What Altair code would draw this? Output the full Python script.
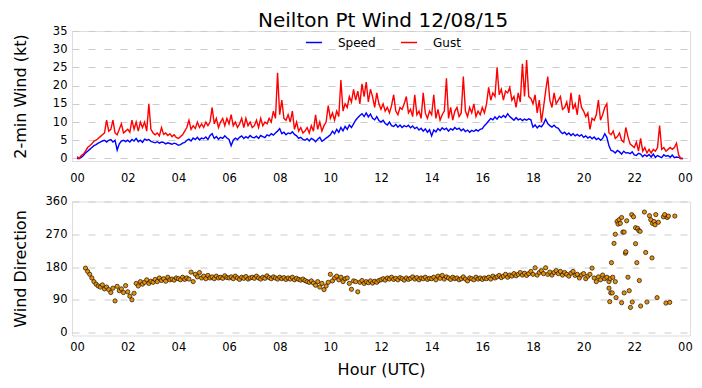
import altair as alt
import pandas as pd

# 2-min wind speed (kt), 5-minute samples from 00:00
speed = [
    0, 0, 0.3, 0.8, 1.5, 2, 2.5, 3, 3.5, 3.8, 4.2, 4.5,
    4.8, 5, 4.5, 5, 5.2, 4.5, 5, 2.3, 4, 4.8, 5, 4.6,
    5, 4.5, 5.2, 4.8, 5.5, 4.6, 5, 4.4, 5.3, 5, 5.2, 4.7,
    4.5, 4.3, 4.6, 4.2, 4.5, 4.4, 4, 4.3, 4.1, 3.9, 4.2, 4,
    3.6, 3.8, 4.2, 4.4, 5, 5.3, 4.8, 5.6, 5.2, 5.8, 5.1, 5.6,
    5.4, 5.9, 5.2, 6.3, 6.8, 5.5, 6, 5.3, 5.8, 5.5, 6.2, 5.6,
    5.2, 3.5, 5, 5.6, 5.2, 5.8, 6.2, 5.5, 6, 5.6, 6.3, 5.8,
    5.7, 6.1, 5.5, 6.3, 6, 5.7, 6.5, 6.2, 6.8, 6.4, 7, 7.5,
    8.2, 6.8, 7.2, 6.5, 7, 6.8, 7.3, 6.6, 6.2, 5.5, 5.8, 5.2,
    5, 5.4, 4.8, 5.5, 5.2, 4.6, 5.3, 5.8, 4.7, 5.1, 5.6, 6,
    6.5, 7.5, 6.8, 8, 7.2, 8.5, 7.6, 8.8, 8, 9.2, 8.5, 9.5,
    10.5, 11.2, 11.8, 12.3, 11.5, 12.5, 11.4, 12.2, 11, 10.6, 11.5, 10.4,
    10, 10.5, 9.6, 9.2, 10, 9, 8.8, 9.4, 8.6, 9.2, 8.5, 9,
    8.7, 9.1, 8.4, 8.9, 8.2, 8.6, 7.8, 8.3, 7.5, 8.1, 7.2, 7.9,
    6.2, 7.8, 7.3, 8.2, 7.6, 8.4, 7.9, 8.3, 7.5, 8.2, 7.8, 8.5,
    8, 8.3, 7.6, 8.1, 7.4, 7.8, 7.2, 7.7, 7.4, 7.9, 7.5, 8,
    8.2, 9, 9.6, 10.3, 11, 10.6, 11.4, 10.8, 11.6, 11.2, 11.8, 11.3,
    12.3, 11.5, 11, 10.5, 11.2, 10.6, 10.9, 10.4, 10.8, 10.5, 10.9, 10.6,
    8.6, 9.2, 8.4, 9, 8.7, 9.5, 10.8, 9.6, 9, 8.6, 9.1, 8.5,
    8.3, 7.4, 6.8, 7.2, 6.5, 7, 6.3, 6.8, 6.2, 6.6, 6.1, 6.5,
    5.8, 6.2, 5.6, 6, 5.4, 5.9, 5.2, 5.6, 5, 5.5, 6.8, 5.8,
    3.5, 2.2, 2, 1.5, 2.2, 1.8, 1.2, 2, 1.5, 1.6, 1.3, 1.8,
    1, 0.8, 1.4, 1.2, 0.5, 1, 0.6, 1.1, 0.4, 1.2, 0.3, 0.8,
    0.5, 0.2, 1, 0.6, 0.8, 0.3, 0.9, 0.2, 0.4, 0.3, 0, 0,
]

# gust (kt), same 5-minute samples
gust = [
    0.5, 0, 0.8, 1.2, 2, 3, 3.5, 4, 4.8, 5, 5.5, 6,
    6.5, 7, 10.5, 7.5, 8, 10.5, 7, 6.5, 8, 9.5, 7, 7.5,
    8, 7.2, 10.5, 8, 10, 7.5, 10, 8.5, 10, 7.5, 15, 8,
    7, 6.5, 7, 6.2, 8.5, 6.6, 7, 6.3, 6.8, 6, 6.5, 5.8,
    5.5, 6, 6.5, 7.5, 8.5, 10.5, 8, 9, 8.2, 10, 8.5, 9.5,
    8.5, 10, 9, 10, 14, 9.5, 11, 8.5, 10, 11, 9, 11,
    9.5, 12, 9, 10, 8.5, 9.5, 11, 8.5, 11, 9, 10, 8.5,
    9, 10.5, 8.5, 11, 9, 10, 9.5, 11, 10, 13, 11, 23.5,
    12, 16, 11, 10.5, 12, 10, 13, 8, 10, 7.5, 8.5, 7,
    7.5, 8.5, 7, 9, 7.5, 12, 8, 10, 7.5, 9, 10, 14.5,
    11, 12.5, 10.5, 13, 11.5, 21.5, 13, 15, 14, 17, 15.5, 19,
    16, 18.5, 15, 20.5, 17, 21, 15.5, 19, 17, 14, 18, 15,
    13.5, 15, 13, 14, 12.5, 14.5, 17.5, 13, 12, 14, 13.5, 15,
    17, 12.5, 13.5, 11.5, 17.5, 12, 13, 11, 18, 12.5, 11, 13,
    12, 17.5, 11, 13.5, 10.5, 12, 13, 22, 11, 14, 10.5, 13,
    14, 11.5, 12.5, 22.5, 13, 11.5, 14, 12.5, 15, 11.5, 13, 12,
    14, 12.5, 15, 19.5, 16, 18, 17, 25, 17.5, 19, 16, 18.5,
    18, 19.5, 16, 17, 14, 18, 15.5, 26, 17, 27, 17, 16.5,
    15, 17.5, 12.5, 16, 10, 14, 18.5, 22.5, 16, 14, 18, 15,
    16, 17, 13.5, 14, 15.5, 12.5, 18, 13.5, 15, 12, 17.5, 14,
    13, 11.5, 12.5, 8, 11, 10.5, 12, 16, 10.5, 12, 14, 15,
    7, 6.5, 7.5, 5.5, 6, 7, 5, 4.5, 8.5, 6, 4, 3.5,
    3, 4.5, 2, 5.5, 2, 3, 1.5, 2.5, 1.5, 2.5, 2, 3,
    9, 2.5, 3, 2, 2.5, 3, 2.5, 3, 4.2, 1, 0, 0,
]

# wind direction (deg), 5-minute samples from 00:20 to 21:00
direction = [
    177, 168, 160, 150, 140, 133, 128, 125,
    131, 120, 125, 118, 110, 122, 87, 127, 115, 120, 110, 129,
    112, 100, 90, 108, 135, 128, 140, 133, 138, 145, 135, 141,
    138, 146, 140, 150, 143, 148, 141, 152, 145, 147, 144, 150,
    148, 145, 152, 146, 150, 147, 166, 140, 160, 153, 165, 150,
    155, 148, 157, 150, 153, 148, 155, 150, 152, 149, 156, 151,
    150, 153, 148, 155, 150, 146, 152, 149, 154, 147, 150, 152,
    149, 155, 150, 147, 152, 149, 156, 151, 148, 153, 150, 147,
    152, 148, 151, 146, 150, 147, 152, 145, 149, 146, 144, 147,
    143, 140, 138, 142, 136, 130, 140, 125, 135, 118, 128, 138,
    160, 142, 150, 155, 145, 152, 140, 148, 150, 135, 119, 142,
    140, 112, 138, 143, 135, 140, 137, 142, 136, 141, 138, 143,
    145, 148, 144, 150, 147, 152, 146, 149, 145, 151, 148, 144,
    150, 146, 149, 153, 147, 151, 145, 150, 148, 152, 146, 149,
    148, 152, 145, 155, 149, 157, 147, 153, 150, 146, 152, 148,
    150, 145, 148, 153, 147, 142, 150, 148, 145, 152, 147, 150,
    146, 150, 148, 152, 147, 155, 150, 153, 157, 151, 155, 160,
    152, 158, 155, 162, 156, 160, 165, 158, 163, 157, 162, 168,
    160, 178, 158, 165, 170, 162, 178, 160, 166, 158, 165, 170,
    162, 168, 158, 165, 160, 155, 163, 168, 157, 160, 150, 158,
    162, 148, 155, 160, 177, 150, 140, 153, 145, 158, 148, 152,
    140,
]

# scattered light-wind directions after 21:00 (hour, deg)
late_hour = [21.0, 21.03, 21.05, 21.07, 21.1, 21.13, 21.15, 21.2, 21.25, 21.25,
             21.28, 21.32, 21.36, 21.4, 21.45, 21.5, 21.5, 21.55, 21.6, 21.6,
             21.65, 21.67, 21.7, 21.75, 21.8, 21.85, 21.9, 21.92, 21.97, 22.05,
             22.05, 22.1, 22.13, 22.18, 22.2, 22.23, 22.25, 22.4, 22.45, 22.5,
             22.6, 22.65, 22.7, 22.72, 22.78, 22.82, 22.85, 22.9, 22.95, 23.15,
             23.2, 23.25, 23.3, 23.35, 23.4, 23.6]
late_deg = [122, 85, 148, 109, 192, 109, 152, 245, 270, 140,
            96, 305, 298, 310, 300, 316, 82, 276, 276, 109,
            218, 222, 307, 152, 115, 69, 324, 84, 318, 244,
            288, 192, 286, 280, 143, 278, 73, 331, 220, 84,
            321, 310, 205, 300, 305, 296, 324, 96, 303, 318,
            324, 81, 316, 320, 83, 320]

tick_hours = list(range(0, 25, 2))
speed_ticks = [0, 5, 10, 15, 20, 25, 30, 35]
dir_ticks = [0, 90, 180, 270, 360]

FONT = "DejaVu Sans"
n = len(speed)
hours = [i / 12 for i in range(n)]
df_top = pd.DataFrame({
    "hour": hours + hours,
    "wind": speed + gust,
    "series": ["Speed"] * n + ["Gust"] * n,
    "ord": [0] * n + [1] * n,
})
dir_hours = [(4 + i) / 12 for i in range(len(direction))]
df_dir = pd.DataFrame({"hour": dir_hours + late_hour, "deg": direction + late_deg})

label_expr = "(datum.value % 24 < 10 ? '0' : '') + (datum.value % 24)"
xscale = alt.Scale(domain=[-0.2, 24.2], nice=False, zero=False)


def y_axis(vals, title):
    return alt.Axis(values=vals, title=title, grid=True, gridDash=[7, 9],
                    gridColor="#cccccc", gridWidth=1, domain=False, ticks=False,
                    tickSize=0, labelPadding=5, labelFontSize=11.5, labelColor="#000",
                    labelFont=FONT, titleFont=FONT, titleFontSize=16,
                    titleFontWeight="normal", titleColor="#000", titleX=-44)


top = alt.Chart(df_top).mark_line(strokeWidth=1.4).encode(
    x=alt.X("hour:Q", scale=xscale,
            axis=alt.Axis(values=tick_hours, labelExpr=label_expr, title=None, grid=False,
                          domain=False, ticks=False, tickSize=0, labelPadding=11.5,
                          labelFontSize=11.5, labelColor="#000", labelFont=FONT)),
    y=alt.Y("wind:Q", scale=alt.Scale(domain=[-0.7, 35], nice=False),
            axis=y_axis(speed_ticks, "2-min Wind (kt)")),
    color=alt.Color("series:N",
                    scale=alt.Scale(domain=["Speed", "Gust"], range=["#0000ff", "#ff0000"]),
                    legend=alt.Legend(title=None, orient="none", legendX=233, legendY=2.5,
                                      direction="horizontal", symbolType="stroke",
                                      symbolSize=260, symbolStrokeWidth=1.5,
                                      labelFontSize=12, labelFont=FONT, labelColor="#000",
                                      labelOffset=15, columnPadding=21)),
    order=alt.Order("ord:Q"),
).properties(width=618, height=130)

bottom = alt.Chart(df_dir).mark_point(
    filled=True, fill="#e8900a", stroke="#1a1000", strokeWidth=0.7, size=18, opacity=1
).encode(
    x=alt.X("hour:Q", scale=xscale,
            axis=alt.Axis(values=tick_hours, labelExpr=label_expr, title="Hour (UTC)",
                          grid=False, domain=False, ticks=False, tickSize=0,
                          labelPadding=5.5, labelFontSize=11.5, labelColor="#000",
                          labelFont=FONT, titleFont=FONT, titleFontSize=16,
                          titleFontWeight="normal", titleColor="#000", titlePadding=8.5)),
    y=alt.Y("deg:Q", scale=alt.Scale(domain=[-8, 360], nice=False),
            axis=y_axis(dir_ticks, "Wind Direction")),
).properties(width=618, height=134)

chart = alt.vconcat(top, bottom, spacing=9.5).properties(
    title=alt.TitleParams("Neilton Pt Wind 12/08/15", font=FONT, fontSize=20,
                          fontWeight="normal", color="#000", anchor="middle",
                          offset=-6, dx=31),
    padding={"left": 3, "top": 2, "right": 0, "bottom": 0},
).configure_view(stroke=None).configure(font=FONT)

chart.save("out.html", embed_options={"renderer": "svg", "actions": False})
